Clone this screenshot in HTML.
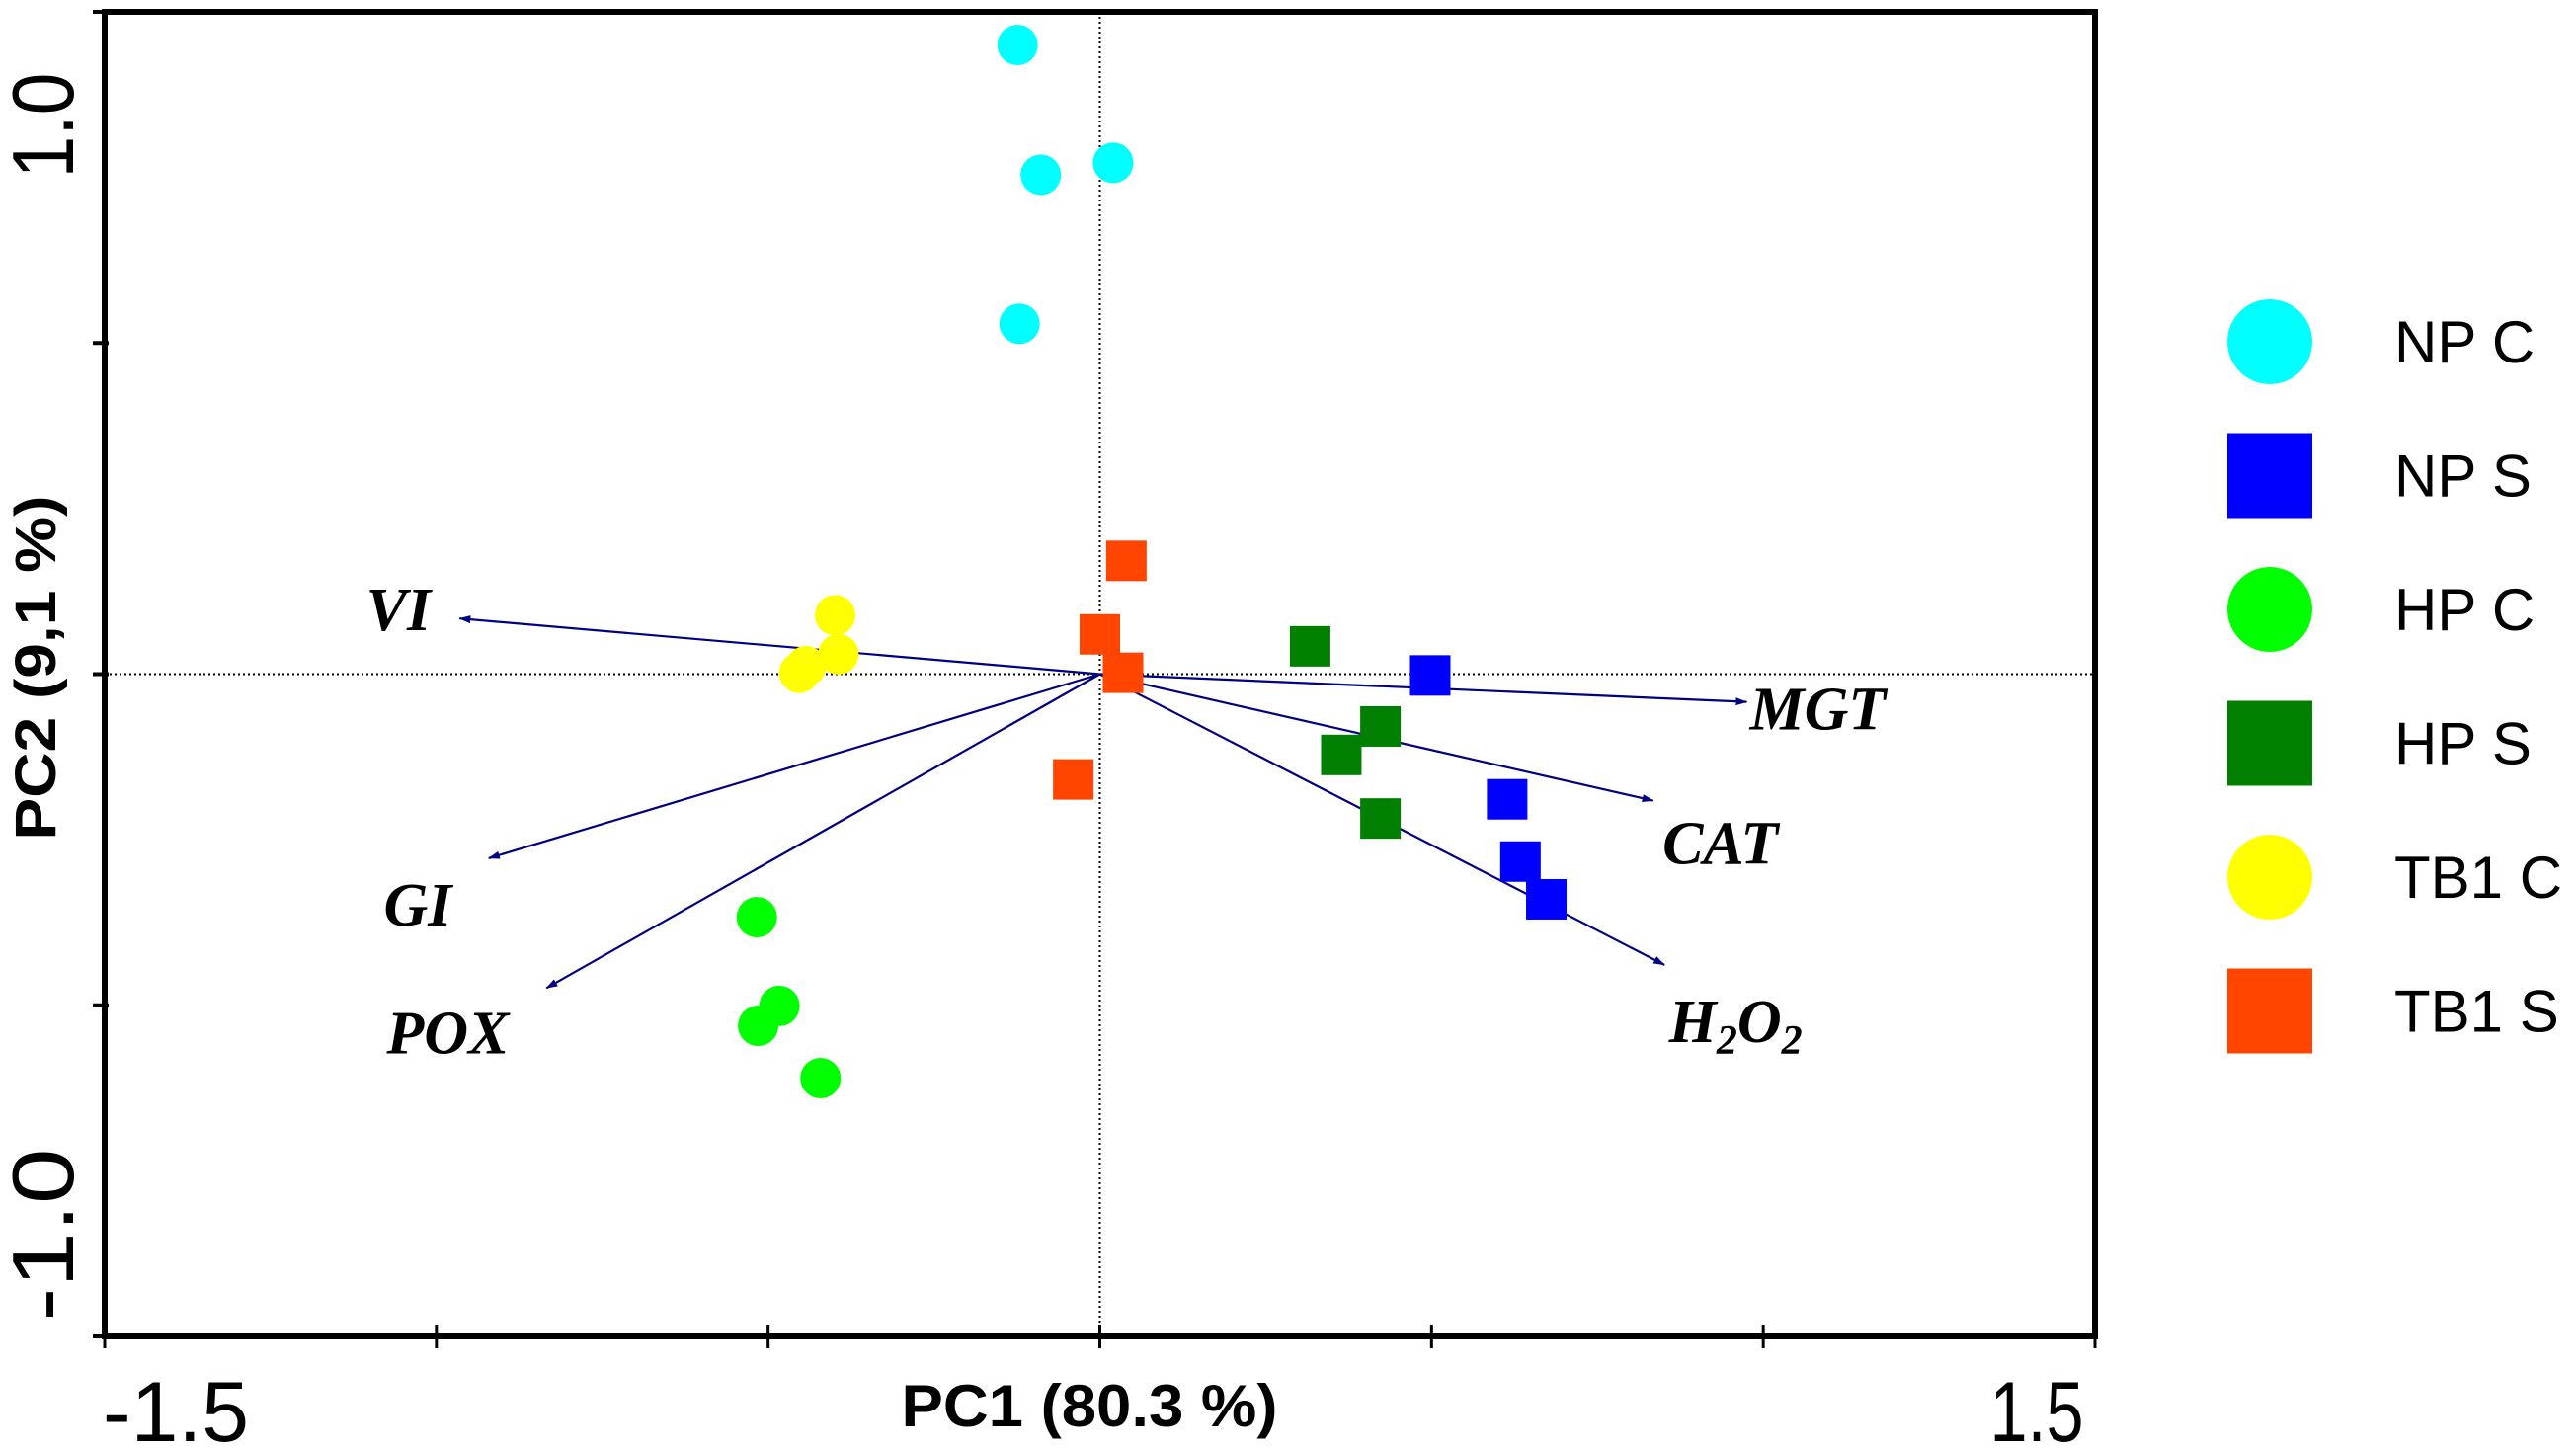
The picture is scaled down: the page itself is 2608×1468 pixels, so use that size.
<!DOCTYPE html>
<html><head><meta charset="utf-8"><style>
html,body{margin:0;padding:0;background:#fff;}
svg{display:block;}
</style></head><body>
<svg id="chart" width="2608" height="1468" viewBox="0 0 2608 1468" xmlns="http://www.w3.org/2000/svg">
<defs>
<marker id="ah" markerWidth="12" markerHeight="8" refX="11" refY="4" orient="auto" markerUnits="userSpaceOnUse" viewBox="0 0 12 8"><path d="M0,0 L12,4 L0,8 Z" fill="#000080"/></marker>
</defs>
<g id="grid"></g><g id="vectors"></g><g id="points"></g><g id="axes"></g><g id="legend"></g>
</svg>
<script>
const xTicks = [-1.5, -1.0, -0.5, 0, 0.5, 1.0, 1.5];
const yTicks = [-1.0, -0.5, 0, 0.5, 1.0];
const npcX = [-0.124, -0.089, 0.020, -0.121];
const npcY = [0.950, 0.754, 0.772, 0.529];
const npsX = [0.498, 0.614, 0.634, 0.673];
const npsY = [-0.002, -0.189, -0.283, -0.340];
const hpcX = [-0.517, -0.483, -0.515, -0.421];
const hpcY = [-0.367, -0.501, -0.531, -0.610];
const hpsX = [0.317, 0.423, 0.364, 0.423];
const hpsY = [0.042, -0.079, -0.122, -0.218];
const tbcX = [-0.399, -0.394, -0.443, -0.453];
const tbcY = [0.089, 0.030, 0.012, 0.002];
const tbsX = [0.040, 0.000, 0.035, -0.040];
const tbsY = [0.171, 0.060, 0.002, -0.159];
const vecNames = ["VI", "MGT", "CAT", "H2O2", "GI", "POX"];
const vecX = [-0.965, 0.975, 0.834, 0.851, -0.921, -0.834];
const vecY = [0.084, -0.042, -0.191, -0.439, -0.278, -0.474];

const NS = "http://www.w3.org/2000/svg";
const L = 106, R = 2121, T = 12, B = 1353;
const sx = v => 1113.5 + v * (R - L) / 3;
const sy = v => 682.5 - v * (B - T) / 2;
function mk(tag, attrs, parent) {
  const e = document.createElementNS(NS, tag);
  for (const k in attrs) e.setAttribute(k, attrs[k]);
  parent.appendChild(e);
  return e;
}
const grid = document.getElementById('grid');
const vg = document.getElementById('vectors');
const pg = document.getElementById('points');
const ag = document.getElementById('axes');
const lg = document.getElementById('legend');

let ln = mk('line', {x1: sx(0), x2: sx(0), y1: T, y2: B, stroke: '#000', 'stroke-width': 2, 'stroke-dasharray': '2,3'}, grid);


ln = mk('line', {x1: L, x2: R, y1: sy(0), y2: sy(0), stroke: '#000', 'stroke-width': 2, 'stroke-dasharray': '2,3'}, grid);



const labelOff = {VI: [-62, -8], MGT: [72, 8], CAT: [68, 44], H2O2: [72, 58], GI: [-72, 48], POX: [-100, 46]};
vecNames.forEach((n, i) => {
  const a = mk('line', {x1: sx(0), y1: sy(0), x2: sx(vecX[i]), y2: sy(vecY[i]), stroke: '#000080', 'stroke-width': 2.2, 'marker-end': 'url(#ah)'}, vg);
  
  
  const o = labelOff[n];
  const t = mk('text', {x: sx(vecX[i]) + o[0], y: sy(vecY[i]) + o[1] + 20, 'text-anchor': 'middle', 'font-family': 'Liberation Serif, serif', 'font-style': 'italic', 'font-weight': 'bold', 'font-size': 62}, vg);
  
  
  if (n === 'H2O2') {
    t.innerHTML = 'H<tspan font-size="42" dy="12">2</tspan><tspan dy="-12">O</tspan><tspan font-size="42" dy="12">2</tspan>';
  } else t.textContent = n;
});

const groups = [
  {name: 'NP C', xs: npcX, ys: npcY, color: '#00FFFF', shape: 'c'},
  {name: 'NP S', xs: npsX, ys: npsY, color: '#0000FF', shape: 's'},
  {name: 'HP C', xs: hpcX, ys: hpcY, color: '#00FF00', shape: 'c'},
  {name: 'HP S', xs: hpsX, ys: hpsY, color: '#007F00', shape: 's'},
  {name: 'TB1 C', xs: tbcX, ys: tbcY, color: '#FFFF00', shape: 'c'},
  {name: 'TB1 S', xs: tbsX, ys: tbsY, color: '#FF4500', shape: 's'}
];
function shape(g, cx, cy, size, parent) {
  if (g.shape === 'c') return mk('circle', {cx: cx, cy: cy, r: size / 2, fill: g.color}, parent);
  return mk('rect', {x: cx - size / 2, y: cy - size / 2, width: size, height: size, fill: g.color}, parent);
}
groups.forEach((g, gi) => {
  const key = g.name.toLowerCase().replace(' ', '-');
  g.xs.forEach((x, i) => {
    const p = shape(g, sx(x), sy(g.ys[i]), 41, pg);
    
    
  });
  const cy = 346 + gi * 135.5;
  const m = shape(g, 2298, cy, 86, lg);
  
  
  const t = mk('text', {x: 2424, y: cy + 21, 'font-family': 'Liberation Sans, sans-serif', 'font-size': 60}, lg);
  t.textContent = g.name;
  
  
});

const fr = mk('rect', {x: L, y: T, width: R - L, height: B - T, fill: 'none', stroke: '#000', 'stroke-width': 6}, ag);


xTicks.forEach(v => {
  const t = mk('line', {x1: sx(v), x2: sx(v), y1: B - 12, y2: B + 12, stroke: '#000', 'stroke-width': 3}, ag);
  
  
});
yTicks.forEach(v => {
  const t = mk('line', {x1: L - 12, x2: L + 4, y1: sy(v), y2: sy(v), stroke: '#000', 'stroke-width': 4}, ag);
  
  
});
const txt = (s, attrs, name) => {
  const t = mk('text', Object.assign({'font-family': 'Liberation Sans, sans-serif', lengthAdjust: 'spacingAndGlyphs'}, attrs), ag);
  t.textContent = s;
  
  
  return t;
};
txt('-1.5', {x: 178, y: 1459, 'text-anchor': 'middle', 'font-size': 86, textLength: 148}, 'x-tick-label-min');
txt('1.5', {x: 2062, y: 1459, 'text-anchor': 'middle', 'font-size': 86, textLength: 95}, 'x-tick-label-max');
txt('PC1 (80.3 %)', {x: 1103, y: 1444, 'text-anchor': 'middle', 'font-size': 60, 'font-weight': 'bold', textLength: 381}, 'x-axis-title');
txt('1.0', {x: 0, y: 0, 'text-anchor': 'middle', 'font-size': 88, textLength: 107, transform: 'translate(74,127) rotate(-90)'}, 'y-tick-label-max');
txt('-1.0', {x: 0, y: 0, 'text-anchor': 'middle', 'font-size': 88, textLength: 175, transform: 'translate(74,1250) rotate(-90)'}, 'y-tick-label-min');
txt('PC2 (9,1 %)', {x: 0, y: 0, 'text-anchor': 'middle', 'font-size': 58, 'font-weight': 'bold', textLength: 349, transform: 'translate(56,676) rotate(-90)'}, 'y-axis-title');
</script>
</body></html>
